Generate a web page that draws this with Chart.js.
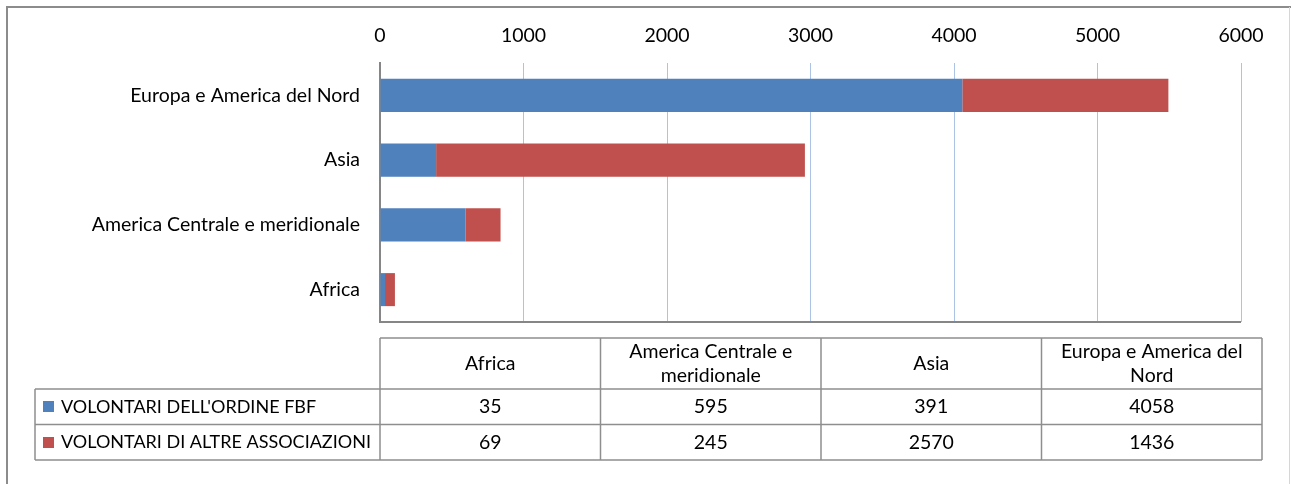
<!DOCTYPE html>
<html><head><meta charset="utf-8">
<script src="https://cdn.jsdelivr.net/npm/chart.js@4/dist/chart.umd.min.js"></script>
<style>html,body{margin:0;padding:0;background:#fff}#wrap{width:1291px;height:484px}</style>
</head><body><div id="wrap"><canvas id="c" width="1291" height="484"></canvas></div>
<script>
const categories = ['Africa', 'America Centrale e meridionale', 'Asia', 'Europa e America del Nord'];
const seriesNames = ["VOLONTARI DELL'ORDINE FBF", 'VOLONTARI DI ALTRE ASSOCIAZIONI'];
const volontariFBF = [35, 595, 391, 4058];
const volontariAltre = [69, 245, 2570, 1436];
const xMin = 0, xMax = 6000, xStep = 1000;

const BLUE = '#4F81BD', RED = '#C0504D';
const FONT = 'Lato';
const FS = 19.5;
const FS_LEG = 18;

const tablePlugin = {
  id: 'tablePlugin',
  beforeDraw(chart) {
    const ctx = chart.ctx;
    ctx.save();
    ctx.strokeStyle = '#8c8c8c';
    ctx.lineWidth = 2;
    ctx.beginPath();
    ctx.moveTo(7, 484); ctx.lineTo(7, 7); ctx.lineTo(1291, 7);
    ctx.stroke();
    ctx.strokeStyle = '#d6d6d6';
    ctx.lineWidth = 1;
    ctx.beginPath(); ctx.moveTo(1289.5, 7); ctx.lineTo(1289.5, 484); ctx.stroke();
    ctx.restore();
  },
  afterDraw(chart) {
    const ctx = chart.ctx, a = chart.chartArea;
    ctx.save();
    ctx.strokeStyle = '#868686'; ctx.lineWidth = 2;
    ctx.beginPath(); ctx.moveTo(a.left, a.bottom); ctx.lineTo(a.right, a.bottom); ctx.stroke();

    const legL = 35, L = a.left, R = 1262, T = 338, H = 389, rowH = 35.5;
    const colW = (R - L) / categories.length;
    const rows = [volontariFBF, volontariAltre];
    const colors = [BLUE, RED];
    const B = H + rowH * rows.length;
    ctx.strokeStyle = '#8e8e8e'; ctx.lineWidth = 1.5;
    ctx.beginPath();
    ctx.moveTo(L, T); ctx.lineTo(R, T);
    for (let i = 0; i <= categories.length; i++) { const x = L + colW * i; ctx.moveTo(x, T); ctx.lineTo(x, B); }
    ctx.moveTo(legL, H); ctx.lineTo(legL, B);
    for (let r = 0; r <= rows.length; r++) { const y = H + rowH * r; ctx.moveTo(legL, y); ctx.lineTo(R, y); }
    ctx.stroke();

    ctx.fillStyle = '#000';
    ctx.font = FS + 'px ' + FONT;
    ctx.textAlign = 'center'; ctx.textBaseline = 'middle';
    const wrap = (text, maxW) => {
      const words = text.split(' '); const lines = []; let cur = '';
      for (const w of words) {
        const t = cur ? cur + ' ' + w : w;
        if (ctx.measureText(t).width > maxW && cur) { lines.push(cur); cur = w; } else cur = t;
      }
      lines.push(cur); return lines;
    };
    categories.forEach((c, i) => {
      const cx = L + colW * (i + 0.5);
      const lines = wrap(c, colW - 18);
      const lh = 24;
      const cy = (T + H) / 2 - (lines.length - 1) * lh / 2;
      lines.forEach((ln, k) => ctx.fillText(ln, cx, cy + k * lh));
    });
    rows.forEach((vals, r) => {
      const cy = H + rowH * (r + 0.5);
      ctx.font = FS + 'px ' + FONT;
      ctx.textAlign = 'center';
      vals.forEach((v, i) => ctx.fillText(String(v), L + colW * (i + 0.5), cy));
      ctx.fillStyle = colors[r];
      ctx.fillRect(43, Math.round(cy - 5.5), 11, 11);
      ctx.fillStyle = '#000';
      ctx.textAlign = 'left';
      ctx.font = FS_LEG + 'px ' + FONT;
      ctx.fillText(seriesNames[r], 61, cy);
    });
    ctx.restore();
  }
};

new Chart(document.getElementById('c'), {
  type: 'bar',
  data: {
    labels: categories,
    datasets: [
      { label: seriesNames[0], data: volontariFBF, backgroundColor: BLUE, borderWidth: 0, categoryPercentage: 1, barPercentage: 0.51 },
      { label: seriesNames[1], data: volontariAltre, backgroundColor: RED, borderWidth: 0, categoryPercentage: 1, barPercentage: 0.51 }
    ]
  },
  options: {
    indexAxis: 'y',
    responsive: false,
    animation: false,
    devicePixelRatio: 1,
    layout: { padding: { left: 0, right: 50, top: 0, bottom: 162 } },
    plugins: { legend: { display: false }, tooltip: { enabled: false } },
    scales: {
      x: {
        position: 'top', stacked: true, min: xMin, max: xMax,
        ticks: { stepSize: xStep, color: '#000', font: { family: FONT, size: FS }, padding: 16, maxRotation: 0, callback: v => String(v) },
        grid: { drawTicks: false, lineWidth: 1, color: c => (c.tick && c.tick.value === 0) ? 'rgba(0,0,0,0)' : '#adc3e6' },
        border: { display: false },
        afterFit(s) { s.height = 63; }
      },
      y: {
        stacked: true, reverse: true,
        grid: { display: false, drawTicks: false },
        border: { display: true, color: '#868686', width: 2 },
        ticks: { color: '#000', font: { family: FONT, size: FS }, padding: 20 },
        afterFit(s) { s.width = 380; }
      }
    }
  },
  plugins: [tablePlugin]
});
</script></body></html>
